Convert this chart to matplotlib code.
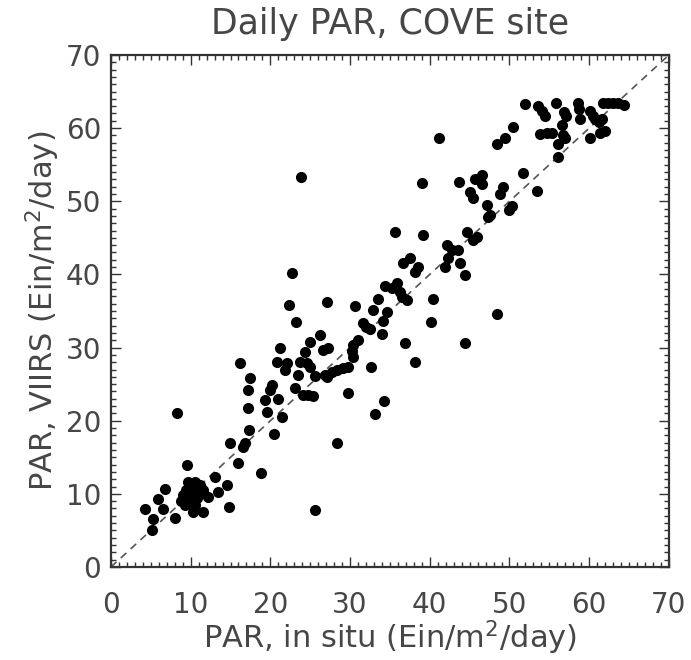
import numpy as np
import matplotlib
matplotlib.use('Agg')
import matplotlib.pyplot as plt
from matplotlib.ticker import MultipleLocator

# daily PAR at COVE: in situ vs VIIRS (Ein/m2/day)
par_insitu = [4.3, 6.5, 5.3, 5.1, 8.0, 5.9, 6.8, 8.3, 9.5, 9.7, 10.5, 11.2, 13.0, 14.6,
              13.4, 12.2, 11.5, 10.3, 14.8, 15.9, 18.8, 14.9, 16.8, 16.6, 17.3, 20.5, 25.6, 28.4,
              9.0, 9.4, 9.9, 10.3, 10.8, 11.2, 9.3, 10.5, 9.9, 8.8, 11.5,
              16.2, 17.2, 17.4, 17.2, 19.3, 21.0, 19.6, 21.5, 20.2, 19.9,
              23.1, 24.1, 24.7, 25.3, 20.8, 22.1, 21.8, 23.7, 24.6, 25.0,
              23.5, 25.6, 26.9, 27.7, 28.4, 29.1, 29.7, 27.1, 29.7, 32.6,
              34.3, 33.1, 21.2, 24.3, 26.6, 27.2, 25.0, 26.2,
              22.7, 22.3, 23.2, 27.1, 30.6, 33.5, 32.9, 31.0, 30.4, 30.2,
              30.4, 31.6, 32.0, 32.5, 34.0, 34.6, 34.1,
              34.4, 35.3, 35.9, 36.3, 36.5, 37.1, 40.4, 35.6, 39.1, 39.0,
              37.5, 36.6, 38.5, 38.1, 41.9, 43.8, 44.4, 42.2, 42.8, 43.5,
              42.3, 44.7, 45.4, 45.9,
              41.2, 43.7, 45.7, 46.5, 46.5, 45.0, 45.4, 49.2, 48.8, 47.2,
              47.6, 47.3, 50.3, 49.9, 51.7, 53.5, 50.4, 49.4, 48.4,
              51.9, 53.6, 54.1, 54.5, 55.8, 56.8, 57.1, 58.6, 58.7, 58.8,
              60.1, 60.5, 60.7, 61.2, 61.6, 61.7, 62.4, 63.0, 63.6, 64.4,
              53.8, 54.7, 55.3, 56.6, 56.7, 57.0, 56.1, 56.1, 60.1, 61.4, 62.0,
              23.8, 48.4, 40.1, 36.9, 44.4, 38.1]
par_viirs = [7.9, 7.9, 6.6, 5.1, 6.7, 9.3, 10.7, 21.0, 13.9, 11.6, 11.6, 11.2, 12.3, 11.2,
             10.2, 9.6, 7.5, 7.5, 8.2, 14.2, 12.8, 16.9, 16.9, 16.4, 18.7, 18.2, 7.8, 16.9,
             9.8, 10.5, 9.2, 10.1, 9.4, 10.2, 8.5, 8.5, 10.9, 9.0, 10.5,
             27.9, 24.2, 25.8, 21.7, 22.8, 23.0, 21.2, 20.5, 24.9, 24.2,
             24.5, 23.5, 23.5, 23.4, 28.0, 27.9, 26.9, 28.0, 27.9, 27.3,
             26.2, 26.1, 26.2, 26.6, 26.9, 27.2, 27.3, 26.0, 23.8, 27.3,
             22.7, 20.9, 29.9, 29.4, 29.6, 29.9, 30.7, 31.7,
             40.2, 35.8, 33.5, 36.2, 35.7, 36.6, 35.2, 31.0, 30.3, 29.5,
             28.7, 33.3, 32.8, 32.5, 31.8, 34.8, 33.7,
             38.4, 38.1, 38.8, 37.6, 36.9, 36.5, 36.6, 45.8, 45.4, 52.5,
             42.3, 41.5, 41.0, 40.3, 41.0, 41.5, 39.9, 44.0, 43.3, 43.4,
             42.3, 45.8, 44.7, 45.1,
             58.7, 52.6, 53.1, 53.6, 52.3, 51.2, 50.4, 52.0, 51.0, 49.5,
             48.1, 47.8, 49.3, 48.8, 53.8, 51.4, 60.1, 58.6, 57.8,
             63.3, 63.0, 62.4, 61.7, 63.5, 62.2, 61.6, 63.4, 62.6, 61.3,
             62.4, 61.7, 61.2, 60.8, 61.3, 63.4, 63.5, 63.5, 63.4, 63.1,
             59.2, 59.4, 59.4, 60.4, 59.0, 58.6, 57.8, 56.1, 58.7, 59.4, 59.6,
             53.3, 34.6, 33.5, 30.6, 30.6, 28.0]
one_to_one = [0, 70]

txt = '#464646'
plt.rcParams['font.family'] = 'DejaVu Sans'
plt.rcParams['mathtext.fontset'] = 'dejavusans'

fig = plt.figure(figsize=(6.91, 6.60), dpi=100)
ax = fig.add_axes([0.1606, 0.1409, 0.8074, 0.7758])

ax.plot(one_to_one, one_to_one, ls=(0, (4.5, 3.5)), color='#555555', lw=1.2, zorder=1)
ax.plot(par_insitu, par_viirs, 'o', ms=8, color='black', mec='none', zorder=2)

ax.set_xlim(0, 70)
ax.set_ylim(0, 70)
ax.xaxis.set_major_locator(MultipleLocator(10))
ax.yaxis.set_major_locator(MultipleLocator(10))
ax.xaxis.set_minor_locator(MultipleLocator(1))
ax.yaxis.set_minor_locator(MultipleLocator(1))
ax.tick_params(which='both', direction='in', top=True, right=True, color='#333333', width=1)
ax.tick_params(which='major', length=7.2, labelsize=20, labelcolor=txt)
ax.tick_params(which='minor', length=3.6)
ax.tick_params(axis='x', which='major', pad=17)
ax.tick_params(axis='y', which='major', pad=7)
for s in ax.spines.values():
    s.set_linewidth(1.6)
    s.set_color('#333333')

ax.set_title('Daily PAR, COVE site', fontsize=25, color=txt, pad=15)
ax.set_xlabel('PAR, in situ (Ein/m$^2$/day)', fontsize=22, color=txt, labelpad=0)
ax.set_ylabel('PAR, VIIRS (Ein/m$^2$/day)', fontsize=22, color=txt, labelpad=3)

fig.savefig('out.png', dpi=100)
